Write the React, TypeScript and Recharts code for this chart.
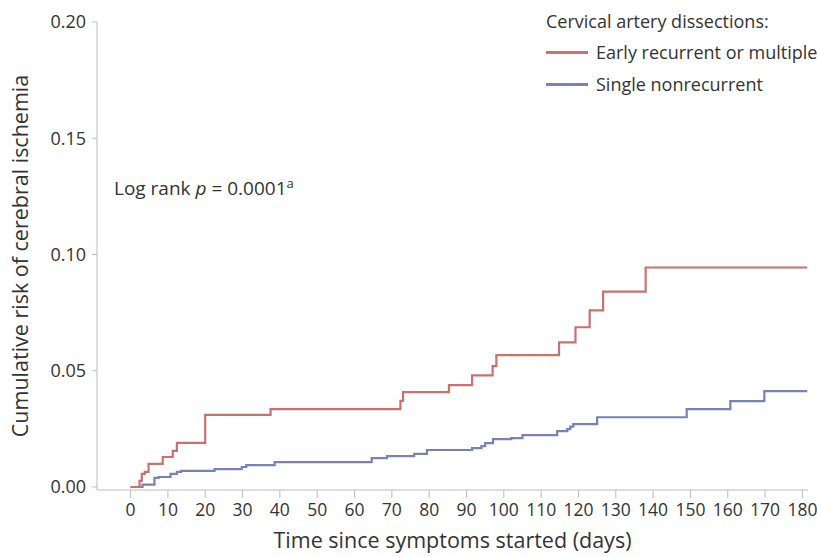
import React from 'react';
import { LineChart, Line, XAxis, YAxis, Label } from 'recharts';

const xTicks = [0, 10, 20, 30, 40, 50, 60, 70, 80, 90, 100, 110, 120, 130, 140, 150, 160, 170, 180];
const yTicks = [0, 0.05, 0.1, 0.15, 0.2];

const earlyDays = [0, 2.4, 3, 3.8, 4.8, 8.6, 11.3, 12.4, 20, 37.5, 72.3, 73, 85.3, 91.5, 97, 98, 114.8, 119.2, 123, 126.6, 138, 181.3];
const earlyRisk = [0, 0.0026, 0.0056, 0.0065, 0.0099, 0.0129, 0.0155, 0.019, 0.031, 0.0335, 0.037, 0.0408, 0.0438, 0.048, 0.052, 0.0567, 0.0622, 0.0687, 0.076, 0.084, 0.0944, 0.0944];

const singleDays = [0, 3.2, 6.4, 7.5, 10.7, 12.4, 13.5, 22.5, 29.8, 31, 38.6, 64.6, 68.7, 76, 79.4, 91.5, 94, 95, 97.1, 102, 105, 114.3, 117, 117.8, 118.6, 125, 149, 160.7, 169.8, 181.3];
const singleRisk = [0, 0.001, 0.0039, 0.0043, 0.0056, 0.0065, 0.0069, 0.0077, 0.0086, 0.0094, 0.0107, 0.0124, 0.0133, 0.0142, 0.0159, 0.0167, 0.0176, 0.0189, 0.0206, 0.021, 0.0223, 0.024, 0.0249, 0.026, 0.027, 0.030, 0.0335, 0.0369, 0.0412, 0.0412];

const seriesNames = ['Early recurrent or multiple', 'Single nonrecurrent'];
const legendTitle = 'Cervical artery dissections:';

const RED = '#c8716f';
const BLUE = '#7882b8';
const TEXT = '#333333';
const AXIS = '#bdbdbd';
const FONT = '"Open Sans", sans-serif';

const earlyData = earlyDays.map((d, i) => ({ x: d, y: earlyRisk[i] }));
const singleData = singleDays.map((d, i) => ({ x: d, y: singleRisk[i] }));

export default function App() {
  return (
    <div style={{ position: 'absolute', left: 0, top: 0, width: 817, height: 557, background: '#fff', fontFamily: FONT }}>
      <LineChart width={817} height={557} margin={{ top: 22, right: 9, bottom: 0, left: 0 }}>
        <XAxis
          type="number"
          dataKey="x"
          domain={[-9, 181.5]}
          ticks={xTicks}
          allowDataOverflow
          stroke={AXIS}
          tickLine={{ stroke: AXIS }}
          tickSize={8}
          tickMargin={6}
          height={67}
          tick={{ fill: TEXT, fontSize: 17.5, fontFamily: FONT }}
          interval={0}
        >
          <Label value="Time since symptoms started (days)" position="insideBottom" offset={9} style={{ fill: TEXT, fontSize: 21.5, fontFamily: FONT }} />
        </XAxis>
        <YAxis
          type="number"
          dataKey="y"
          domain={[-0.0013, 0.2]}
          ticks={yTicks}
          allowDataOverflow
          width={97}
          stroke={AXIS}
          tickLine={{ stroke: AXIS }}
          tickSize={5}
          tickMargin={6}
          tickFormatter={(v: number) => v.toFixed(2)}
          tick={{ fill: TEXT, fontSize: 18, fontFamily: FONT }}
        >
          <Label value="Cumulative risk of cerebral ischemia" angle={-90} position="insideLeft" offset={20} style={{ fill: TEXT, fontSize: 21.5, fontFamily: FONT, textAnchor: 'middle' }} />
        </YAxis>
        <Line data={singleData} dataKey="y" type="stepAfter" stroke={BLUE} strokeWidth={2.2} dot={false} isAnimationActive={false} name={seriesNames[1]} />
        <Line data={earlyData} dataKey="y" type="stepAfter" stroke={RED} strokeWidth={2.2} dot={false} isAnimationActive={false} name={seriesNames[0]} />
      </LineChart>

      <div style={{ position: 'absolute', left: 114, top: 174, fontSize: 19, color: TEXT, whiteSpace: 'nowrap' }}>
        Log rank <i>p</i> = 0.0001<sup style={{ fontSize: 13 }}>a</sup>
      </div>

      <div style={{ position: 'absolute', left: 546, top: 9, fontSize: 18, color: TEXT, whiteSpace: 'nowrap', lineHeight: '24px' }}>
        <div>{legendTitle}</div>
        <div style={{ display: 'flex', alignItems: 'center', marginTop: 7 }}>
          <span style={{ display: 'inline-block', width: 42, height: 3, background: RED, marginRight: 8 }} />
          <span>{seriesNames[0]}</span>
        </div>
        <div style={{ display: 'flex', alignItems: 'center', marginTop: 8 }}>
          <span style={{ display: 'inline-block', width: 42, height: 3, background: BLUE, marginRight: 8 }} />
          <span>{seriesNames[1]}</span>
        </div>
      </div>
    </div>
  );
}
